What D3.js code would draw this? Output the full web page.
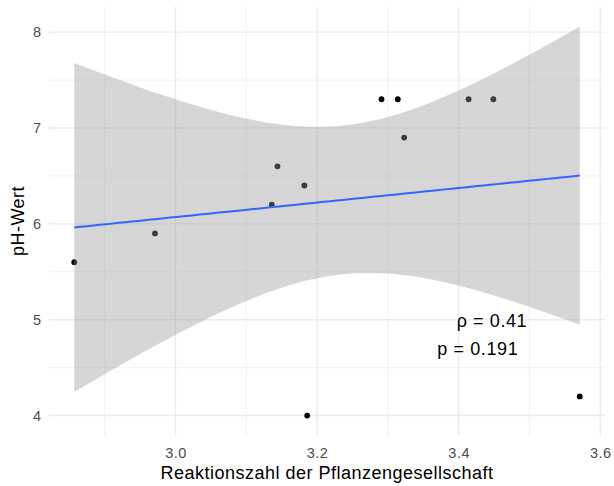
<!DOCTYPE html>
<html>
<head>
<meta charset="utf-8">
<script src="https://cdn.jsdelivr.net/npm/d3@7"></script>
<style>
  html, body { margin: 0; padding: 0; background: #fff; }
  svg { display: block; font-family: "Liberation Sans", Arial, sans-serif; }
</style>
</head>
<body>
<svg id="chart" width="614" height="486"></svg>
<script>
// Reaction index of the plant community vs. soil pH
const reaktionszahl = [2.857, 2.971, 3.136, 3.144, 3.182, 3.186, 3.291, 3.314, 3.323, 3.414, 3.449, 3.571];
const phWert        = [5.6,   5.9,   6.2,   6.6,   6.4,   4.0,   7.3,   7.3,   6.9,   7.3,   7.3,   4.2];
const xTicks = [3.0, 3.2, 3.4, 3.6];
const xMinor = [2.9, 3.1, 3.3, 3.5];
const yTicks = [4, 5, 6, 7, 8];
const yMinor = [4.5, 5.5, 6.5, 7.5];
const statLabels = ["ρ = 0.41", "p = 0.191"];
const statLabelX = [3.447, 3.427];
const statLabelY = [4.99, 4.70];
const xTitle = "Reaktionszahl der Pflanzengesellschaft";
const yTitle = "pH-Wert";

const W = 614, H = 486;
const margin = { top: 7, right: 9, bottom: 51, left: 49 };
const svg = d3.select("#chart");

// Ordinary least squares fit with a 95% confidence band (t, df = n - 2)
const n = reaktionszahl.length;
const mx = d3.mean(reaktionszahl), my = d3.mean(phWert);
let sxx = 0, sxy = 0;
for (let i = 0; i < n; i++) {
  sxx += (reaktionszahl[i] - mx) ** 2;
  sxy += (reaktionszahl[i] - mx) * (phWert[i] - my);
}
const slope = sxy / sxx, intercept = my - slope * mx;
let sse = 0;
for (let i = 0; i < n; i++) sse += (phWert[i] - intercept - slope * reaktionszahl[i]) ** 2;
const sigma = Math.sqrt(sse / (n - 2));
const tCrit = 2.228139;
const [xLo, xHi] = d3.extent(reaktionszahl);
const fit = d3.range(80).map(k => {
  const x = xLo + (xHi - xLo) * k / 79;
  const y = intercept + slope * x;
  const se = sigma * Math.sqrt(1 / n + (x - mx) ** 2 / sxx);
  return { x, y, lo: y - tCrit * se, hi: y + tCrit * se };
});

// Scales with 5% padding on both sides
const pad = (lo, hi) => { const d = (hi - lo) * 0.05; return [lo - d, hi + d]; };
const yLo = Math.min(d3.min(phWert), d3.min(fit, d => d.lo));
const yHi = Math.max(d3.max(phWert), d3.max(fit, d => d.hi));
const x = d3.scaleLinear().domain(pad(xLo, xHi)).range([margin.left, W - margin.right]);
const y = d3.scaleLinear().domain(pad(yLo, yHi)).range([H - margin.bottom, margin.top]);

// Grid
const grid = svg.append("g");
grid.selectAll(".xm").data(xMinor).join("line")
  .attr("x1", d => x(d)).attr("x2", d => x(d))
  .attr("y1", margin.top).attr("y2", H - margin.bottom)
  .attr("stroke", "#EBEBEB").attr("stroke-width", 0.7);
grid.selectAll(".ym").data(yMinor).join("line")
  .attr("y1", d => y(d)).attr("y2", d => y(d))
  .attr("x1", margin.left).attr("x2", W - margin.right)
  .attr("stroke", "#EBEBEB").attr("stroke-width", 0.7);
grid.selectAll(".xM").data(xTicks).join("line")
  .attr("x1", d => x(d)).attr("x2", d => x(d))
  .attr("y1", margin.top).attr("y2", H - margin.bottom)
  .attr("stroke", "#EBEBEB").attr("stroke-width", 1.4);
grid.selectAll(".yM").data(yTicks).join("line")
  .attr("y1", d => y(d)).attr("y2", d => y(d))
  .attr("x1", margin.left).attr("x2", W - margin.right)
  .attr("stroke", "#EBEBEB").attr("stroke-width", 1.4);

// Points
svg.append("g").selectAll("circle")
  .data(d3.zip(reaktionszahl, phWert)).join("circle")
  .attr("cx", d => x(d[0])).attr("cy", d => y(d[1]))
  .attr("r", 2.9).attr("fill", "#000");

// Confidence band and regression line
svg.append("path").datum(fit)
  .attr("d", d3.area().x(d => x(d.x)).y0(d => y(d.lo)).y1(d => y(d.hi)))
  .attr("fill", "#999999").attr("fill-opacity", 0.4);
svg.append("path").datum(fit)
  .attr("d", d3.line().x(d => x(d.x)).y(d => y(d.y)))
  .attr("fill", "none").attr("stroke", "#3366FF").attr("stroke-width", 2);

// Axes (text only)
const xAxis = svg.append("g").attr("transform", `translate(0,${H - margin.bottom})`)
  .call(d3.axisBottom(x).tickValues(xTicks).tickFormat(d3.format(".1f")).tickSize(0).tickPadding(0));
xAxis.select(".domain").remove();
xAxis.selectAll("text").attr("y", 22.5).attr("dy", null)
  .attr("font-size", 14.5).attr("letter-spacing", 0.5).attr("fill", "#4D4D4D")
  .attr("font-family", "Liberation Sans, Arial, sans-serif");

const yAxis = svg.append("g").attr("transform", `translate(${margin.left},0)`)
  .call(d3.axisLeft(y).tickValues(yTicks).tickFormat(d3.format("d")).tickSize(0).tickPadding(8));
yAxis.select(".domain").remove();
yAxis.selectAll("text")
  .attr("font-size", 14.5).attr("fill", "#4D4D4D")
  .attr("font-family", "Liberation Sans, Arial, sans-serif");

// Titles
svg.append("text")
  .attr("x", (margin.left + W - margin.right) / 2).attr("y", 479)
  .attr("text-anchor", "middle").attr("font-size", 18).attr("letter-spacing", 0.5).attr("fill", "#000")
  .text(xTitle);
svg.append("text")
  .attr("transform", `translate(24,${(margin.top + H - margin.bottom) / 2}) rotate(-90)`)
  .attr("text-anchor", "middle").attr("font-size", 18).attr("letter-spacing", 0.5).attr("fill", "#000")
  .text(yTitle);

// Correlation annotation
svg.append("g").selectAll("text")
  .data(statLabels).join("text")
  .attr("x", (d, i) => x(statLabelX[i])).attr("y", (d, i) => y(statLabelY[i]))
  .attr("dy", "0.35em").attr("text-anchor", "middle")
  .attr("font-size", 18).attr("letter-spacing", 0.6).attr("fill", "#000")
  .text(d => d);
</script>
</body>
</html>
